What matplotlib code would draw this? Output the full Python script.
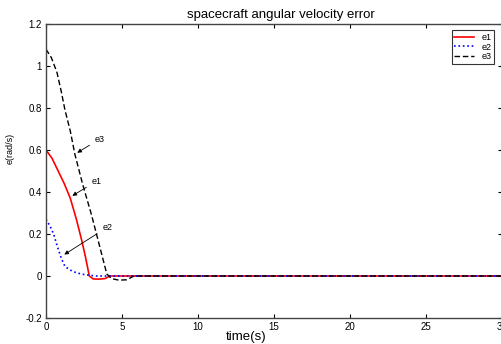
import matplotlib
matplotlib.use("Agg")
import matplotlib.pyplot as plt

plt.rcParams['font.family'] = ['Liberation Sans', 'DejaVu Sans']

# data
t1 = [0, 0.4, 0.8, 1.2, 1.6, 2.0, 2.35, 2.6, 2.85, 3.1, 3.5, 3.9, 4.2, 30]
e1 = [0.60, 0.56, 0.50, 0.44, 0.37, 0.27, 0.17, 0.09, 0.0, -0.014, -0.015, -0.012, 0.0, 0.0]

t2 = [0, 0.25, 0.5, 0.75, 1.0, 1.25, 1.6, 2.0, 2.5, 2.9, 3.3, 30]
e2 = [0.27, 0.24, 0.20, 0.14, 0.086, 0.045, 0.028, 0.015, 0.007, 0.003, 0.0, 0.0]

t3 = [0, 0.35, 0.72, 1.0, 1.25, 1.6, 1.9, 2.4, 3.0, 3.5, 4.0, 4.3, 4.8, 5.3, 5.8, 30]
e3 = [1.08, 1.04, 0.97, 0.88, 0.79, 0.69, 0.58, 0.44, 0.29, 0.15, 0.01, -0.012, -0.02, -0.018, 0.0, 0.0]

fig = plt.figure(figsize=(5.01, 3.44), dpi=100)
ax = fig.add_axes([0.0918, 0.0756, 0.910, 0.8547])

ax.plot(t1, e1, '-', color='red', lw=1.2, label='e1')
ax.plot(t2, e2, ':', color='blue', lw=1.2, label='e2')
ax.plot(t3, e3, '--', color='black', lw=1.0, dashes=(4, 2), label='e3')

ax.set_xlim(0, 30)
ax.set_ylim(-0.2, 1.2)
ax.set_xticks([0, 5, 10, 15, 20, 25, 30])
ax.set_yticks([-0.2, 0, 0.2, 0.4, 0.6, 0.8, 1, 1.2])
ax.set_yticklabels(['-0.2', '0', '0.2', '0.4', '0.6', '0.8', '1', '1.2'])
ax.tick_params(direction='in', length=3, labelsize=7, top=True, right=True, pad=3)
for s in ax.spines.values():
    s.set_linewidth(1.0)
    s.set_color('#444444')

ax.set_title('spacecraft angular velocity error', fontsize=9.5, pad=4, x=0.515)
ax.set_xlabel('time(s)', fontsize=9.5)
ax.xaxis.set_label_coords(0.44, -0.045)
ax.set_ylabel('e(rad/s)', fontsize=6.5)
ax.yaxis.set_label_coords(-0.068, 0.578)

arr = dict(arrowstyle='-|>', color='black', lw=0.6, mutation_scale=6)
ax.annotate('e3', xy=(1.9, 0.58), xytext=(3.2, 0.64), fontsize=6.5, arrowprops=arr)
ax.annotate('e1', xy=(1.58, 0.375), xytext=(3.0, 0.44), fontsize=6.5, arrowprops=arr)
ax.annotate('e2', xy=(1.05, 0.095), xytext=(3.7, 0.22), fontsize=6.5, arrowprops=arr)

leg = ax.legend(loc='upper right', fontsize=6.5, frameon=True, fancybox=False,
                handlelength=2.2, borderpad=0.3, labelspacing=0.1,
                bbox_to_anchor=(0.993, 0.995))
leg.get_frame().set_edgecolor('black')
leg.get_frame().set_linewidth(0.8)

fig.savefig('out.png', dpi=100)
